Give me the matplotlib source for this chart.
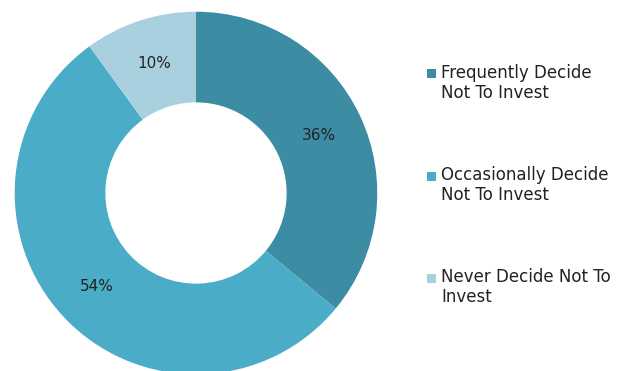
import matplotlib.pyplot as plt
from matplotlib.patches import Rectangle

labels = [["Frequently Decide", "Not To Invest"],
          ["Occasionally Decide", "Not To Invest"],
          ["Never Decide Not To", "Invest"]]
values = [36, 54, 10]
colors = ["#3c8ca3", "#4aacc6", "#a9d0de"]

W, H = 631, 371
fig = plt.figure(figsize=(W / 100, H / 100), dpi=100)
ax = fig.add_axes([0.0233, -0.0089, 0.5746, 0.9774])

ax.pie(values, colors=colors, startangle=90, counterclock=False,
       autopct="%d%%", pctdistance=0.75, radius=1.0,
       wedgeprops=dict(width=0.5, linewidth=0),
       textprops=dict(fontsize=11, color="#222222"))
ax.set_xlim(-1, 1)
ax.set_ylim(-1, 1)
ax.set_aspect("equal")

# legend drawn by hand: marker lines up with the first text line
for i, (lines, c) in enumerate(zip(labels, colors)):
    base = 77.5 + i * 102.5
    fig.patches.append(Rectangle((427 / W, 1 - (base + 0.5) / H), 9 / W, 9 / H,
                                 transform=fig.transFigure, facecolor=c, edgecolor="none"))
    for j, t in enumerate(lines):
        fig.text(441 / W, 1 - (base + j * 20) / H, t, fontsize=12, color="#222222",
                 ha="left", va="baseline")

fig.savefig("out.png", dpi=100)
